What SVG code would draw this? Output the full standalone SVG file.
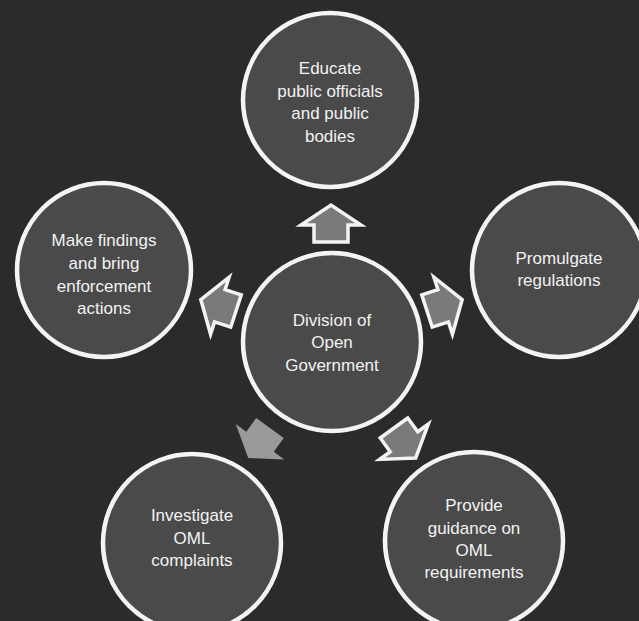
<svg xmlns="http://www.w3.org/2000/svg" width="639" height="621" viewBox="0 0 639 621">
<style>
.node circle{fill:#4a4a4a;stroke:#f4f4f4;stroke-width:4.5}
.node text{font-family:"Liberation Sans",Arial,sans-serif;font-size:17px;fill:#f2f2f2;text-anchor:middle;dominant-baseline:central}
.arr{fill:#7a7a7a;stroke:#f4f4f4;stroke-width:3.5;stroke-linejoin:miter}
.arr2{fill:#9a9a9a;stroke:none}
</style>
<defs>
<path id="ar" d="M -17,0 L -17,-17 L -30,-17 L 0,-37 L 30,-17 L 17,-17 L 17,0 Z"/>
</defs>
<rect width="639" height="621" fill="#2b2b2b"/>
<g id="connectors">
<use href="#ar" class="arr" transform="translate(331,242)"/>
<use href="#ar" class="arr" transform="translate(236,311) rotate(-72)"/>
<use href="#ar" class="arr" transform="translate(427,311) rotate(72)"/>
<use href="#ar" class="arr" transform="translate(394,428) rotate(144)"/>
<use href="#ar" class="arr2" transform="translate(270,428) rotate(-144)"/>
</g>
<g id="center" class="node">
<circle cx="332" cy="342" r="89"/>
<text x="332" y="320">Division of</text>
<text x="332" y="342">Open</text>
<text x="332" y="365">Government</text>
</g>
<g id="educate" class="node">
<circle cx="330" cy="100" r="87"/>
<text x="330" y="68">Educate</text>
<text x="330" y="91">public officials</text>
<text x="330" y="113">and public</text>
<text x="330" y="136">bodies</text>
</g>
<g id="findings" class="node">
<circle cx="104" cy="270" r="87"/>
<text x="104" y="240">Make findings</text>
<text x="104" y="263">and bring</text>
<text x="104" y="286">enforcement</text>
<text x="104" y="308">actions</text>
</g>
<g id="promulgate" class="node">
<circle cx="559" cy="270" r="87"/>
<text x="559" y="258">Promulgate</text>
<text x="559" y="280">regulations</text>
</g>
<g id="investigate" class="node">
<circle cx="192" cy="543" r="89"/>
<text x="192" y="515">Investigate</text>
<text x="192" y="538">OML</text>
<text x="192" y="560">complaints</text>
</g>
<g id="guidance" class="node">
<circle cx="474" cy="541" r="89"/>
<text x="474" y="505">Provide</text>
<text x="474" y="528">guidance on</text>
<text x="474" y="550">OML</text>
<text x="474" y="572">requirements</text>
</g>
</svg>
